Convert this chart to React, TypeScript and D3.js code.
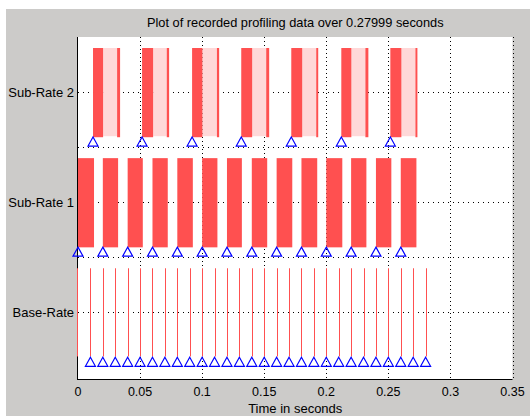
import React from "react";
import * as d3 from "d3";

const taskNames = ["Base-Rate", "Sub-Rate 1", "Sub-Rate 2"];
const taskLevels = [1, 2, 3];
const xTicks = [0, 0.05, 0.1, 0.15, 0.2, 0.25, 0.3, 0.35];
const xTickLabels = ["0", "0.05", "0.1", "0.15", "0.2", "0.25", "0.3", "0.35"];
const yGrid = [1, 1.5, 2, 2.5, 3];

const baseRateRuns = [0, 0.01, 0.02, 0.03, 0.04, 0.05, 0.06, 0.07, 0.08, 0.09, 0.1, 0.11, 0.12, 0.13, 0.14, 0.15, 0.16, 0.17, 0.18, 0.19, 0.2, 0.21, 0.22, 0.23, 0.24, 0.25, 0.26, 0.27, 0.28];
const baseRateTriggers = [0.01, 0.02, 0.03, 0.04, 0.05, 0.06, 0.07, 0.08, 0.09, 0.1, 0.11, 0.12, 0.13, 0.14, 0.15, 0.16, 0.17, 0.18, 0.19, 0.2, 0.21, 0.22, 0.23, 0.24, 0.25, 0.26, 0.27, 0.28];

const subRate1Starts = [0, 0.02, 0.04, 0.06, 0.08, 0.1, 0.12, 0.14, 0.16, 0.18, 0.2, 0.22, 0.24, 0.26];
const subRate1Ends = [0.0129, 0.0323, 0.0522, 0.0723, 0.0925, 0.1123, 0.132, 0.1524, 0.1726, 0.1927, 0.2129, 0.2323, 0.2524, 0.2726];
const subRate1Triggers = [0, 0.02, 0.04, 0.06, 0.08, 0.1, 0.12, 0.14, 0.16, 0.18, 0.2, 0.22, 0.24, 0.26];

const subRate2Starts = [0.0121, 0.0516, 0.0919, 0.1315, 0.1718, 0.2121, 0.2516];
const subRate2Preempts = [0.0202, 0.0605, 0.1002, 0.1403, 0.1806, 0.2202, 0.2605];
const subRate2Resumes = [0.0315, 0.0715, 0.1119, 0.1516, 0.1919, 0.2315, 0.2718];
const subRate2Ends = [0.0339, 0.0734, 0.1137, 0.154, 0.1935, 0.2339, 0.2734];
const subRate2Triggers = [0.0121, 0.0516, 0.0919, 0.1315, 0.1718, 0.2121, 0.2516];

const TITLE = "Plot of recorded profiling data over 0.27999 seconds";
const XLABEL = "Time in seconds";

const RED = "#ff5050";
const PINK = "#ffd8d8";
const BLUE = "#0000ff";
const FONT = "'Liberation Sans', Arial, sans-serif";

export default function App() {
  const W = 530, H = 416;
  const left = 78, right = 512.5, top = 37, bottom = 379.5;
  const x = d3.scaleLinear().domain([0, 0.35]).range([left, right]);
  const y = d3.scaleLinear().domain([0.39, 3.5]).range([bottom, top]);

  const tri = (t: number, lvl: number) => {
    const cx = x(t);
    const by = y(lvl - 0.49);
    return `M${cx},${by - 9}L${cx + 5},${by}L${cx - 5},${by}Z`;
  };

  const band = (lvl: number) => ({ y0: y(lvl + 0.4), y1: y(lvl - 0.41) });
  const b3 = band(3), b2 = band(2), b1 = band(1);

  return (
    <svg width={W} height={H} style={{ position: "absolute", left: 0, top: 0 }} fontFamily={FONT}>
      <rect x={0} y={0} width={W} height={H} fill="#ffffff" />
      <rect x={6} y={9} width={W - 6} height={H - 9} fill="#cccbc9" />
      <rect x={left} y={top} width={right - left} height={bottom - top} fill="#ffffff" />

      {/* grid */}
      {xTicks.slice(1).map((t, i) => (
        <line key={"vg" + i} x1={Math.round(x(t)) + 0.5} x2={Math.round(x(t)) + 0.5} y1={top} y2={bottom}
          stroke="#000" strokeWidth={1} strokeDasharray="1,3" />
      ))}
      {yGrid.map((v, i) => (
        <line key={"hg" + i} x1={left} x2={right} y1={Math.round(y(v)) + 0.5} y2={Math.round(y(v)) + 0.5}
          stroke="#000" strokeWidth={1} strokeDasharray="1,4" />
      ))}

      {/* axes */}
      <line x1={left - 0.5} x2={left - 0.5} y1={top} y2={bottom + 0.5} stroke="#000" strokeWidth={1} />
      <line x1={left - 1} x2={right} y1={bottom} y2={bottom} stroke="#000" strokeWidth={1} />

      {/* Sub-Rate 2 */}
      {subRate2Preempts.map((p, i) => (
        <rect key={"s2p" + i} x={x(p)} y={b3.y0} width={x(subRate2Resumes[i]) - x(p)} height={b3.y1 - b3.y0 - 1} fill={PINK} />
      ))}
      {subRate2Starts.map((s, i) => (
        <rect key={"s2a" + i} x={x(s)} y={b3.y0} width={x(subRate2Preempts[i]) - x(s)} height={b3.y1 - b3.y0} fill={RED} />
      ))}
      {subRate2Resumes.map((r, i) => (
        <rect key={"s2b" + i} x={x(r)} y={b3.y0} width={x(subRate2Ends[i]) - x(r)} height={b3.y1 - b3.y0} fill={RED} />
      ))}

      {/* Sub-Rate 1 */}
      {subRate1Starts.map((s, i) => (
        <rect key={"s1" + i} x={x(s)} y={b2.y0} width={x(subRate1Ends[i]) - x(s)} height={b2.y1 - b2.y0} fill={RED} />
      ))}

      {/* Base-Rate */}
      {baseRateRuns.map((s, i) => (
        <line key={"br" + i} x1={Math.round(x(s)) + 0.5 - (i === 0 ? 1 : 0)} x2={Math.round(x(s)) + 0.5 - (i === 0 ? 1 : 0)}
          y1={b1.y0} y2={b1.y1 - 1} stroke={RED} strokeWidth={1} />
      ))}

      {/* triggers */}
      {subRate2Triggers.map((t, i) => (
        <path key={"t2" + i} d={tri(t, 3)} fill="none" stroke={BLUE} strokeWidth={1.2} />
      ))}
      {subRate1Triggers.map((t, i) => (
        <path key={"t1" + i} d={tri(t, 2)} fill="none" stroke={BLUE} strokeWidth={1.2} />
      ))}
      {baseRateTriggers.map((t, i) => (
        <path key={"t0" + i} d={tri(t, 1)} fill="none" stroke={BLUE} strokeWidth={1.2} />
      ))}

      {/* tick labels */}
      {xTicks.map((t, i) => (
        <text key={"xt" + i} x={x(t)} y={396} textAnchor="middle" fontSize={12.5} fill="#000">{xTickLabels[i]}</text>
      ))}
      {taskLevels.map((v, i) => (
        <text key={"yt" + i} x={74} y={y(v) + 4.5} textAnchor="end" fontSize={13} fill="#000">{taskNames[i]}</text>
      ))}

      <text x={(left + right) / 2} y={27} textAnchor="middle" fontSize={12.8} fill="#000">{TITLE}</text>
      <text x={(left + right) / 2} y={412.5} textAnchor="middle" fontSize={13} fill="#000">{XLABEL}</text>
    </svg>
  );
}
